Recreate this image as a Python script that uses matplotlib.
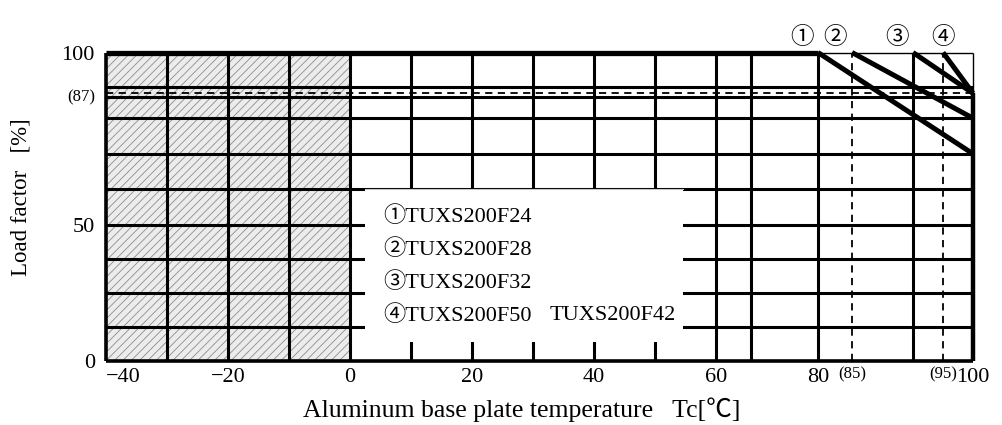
import numpy as np
import matplotlib
matplotlib.use("Agg")
import matplotlib.pyplot as plt
from matplotlib.patches import Rectangle

# ---------------- data ----------------
markers = ["①", "②", "③", "④"]
models = ["TUXS200F24", "TUXS200F28", "TUXS200F32", "TUXS200F50"]
extra_model = "TUXS200F42"
derate_start_temp = [80, 85, 90, 95]
derate_start_load = [100, 100, 100, 100]
derate_end_temp = [100, 100, 100, 100]
derate_end_load = [70, 80, 87, 87]

x_ticks = [-40, -20, 0, 20, 40, 60, 80, 100]
x_ticklabels = ["−40", "−20", "0", "20", "40", "60", "80", "100"]
y_ticks = [0, 50, 100]
y_ticklabels = ["0", "50", "100"]
x_grid = [-30, -20, -10, 0, 10, 20, 30, 40, 50, 60, 70, 80, 90]
y_grid = [12.5, 25, 37.5, 50, 60, 70, 80, 86, 90]
x_ref = [85, 95]
x_ref_labels = ["(85)", "(95)"]
y_ref = [87]
y_ref_labels = ["(87)"]
restricted = [-40, 0]
x_min, x_max = -40, 100
y_min, y_max = 0, 100

# ---------------- style / layout ----------------
plt.rcParams['font.family'] = ['Liberation Serif', 'Noto Sans CJK JP']
plt.rcParams['hatch.linewidth'] = 0.6
plt.rcParams['hatch.color'] = '#8c8c8c'

# piecewise (hand drawn, non-linear) axis scales
xk_v = [-40, 0, 60, 70, 80, 85, 90, 95, 100]
xk_p = [0, 244, 610, 645, 712, 746, 807, 837, 867]
yk_v = [0, 50, 87, 90, 100]
yk_p = [0, 136, 267.7, 274, 308.5]

def xf(v): return np.interp(v, xk_v, xk_p)
def xi(p): return np.interp(p, xk_p, xk_v)
def yf(v): return np.interp(v, yk_v, yk_p)
def yi(p): return np.interp(p, yk_p, yk_v)

W, H = 1002, 425
fig = plt.figure(figsize=(W / 100, H / 100), dpi=100)
ax = fig.add_axes([106 / W, 1 - 361 / H, 867 / W, 308.5 / H])
ax.set_xscale('function', functions=(xf, xi))
ax.set_yscale('function', functions=(yf, yi))
ax.set_xlim(x_min, x_max)
ax.set_ylim(y_min, y_max)
for s in ax.spines.values():
    s.set_visible(False)

# restricted (hatched) region
ax.fill_between(restricted, y_min, y_max, facecolor='#ececec', hatch='////',
                edgecolor='#8c8c8c', linewidth=0, zorder=1)

GLW = 2.2
ax.vlines(x_grid, y_min, y_max, color='black', lw=GLW, zorder=2)
ax.hlines(y_grid, x_min, x_max, color='black', lw=GLW, zorder=2)
ax.vlines(x_ref, y_min, y_max, color='black', lw=1.3, linestyles=(0, (4, 3)), zorder=2)
ax.hlines(y_ref, x_min, x_max, color='black', lw=1.3, linestyles=(0, (4, 3)), zorder=2)

# frame
ax.vlines(x_min, y_min, y_max, color='black', lw=2.6, zorder=6, clip_on=False)
ax.hlines(y_min, x_min, x_max, color='black', lw=2.6, zorder=6, clip_on=False)
ax.hlines(y_max, x_min, derate_start_temp[0], color='black', lw=3.8, zorder=6, clip_on=False)
ax.hlines(y_max, derate_start_temp[0], x_max, color='black', lw=1.0, zorder=6, clip_on=False)
ax.vlines(x_max, y_min, y_ref[0], color='black', lw=3.2, zorder=6, clip_on=False)
ax.vlines(x_max, y_ref[0], y_max, color='black', lw=1.0, zorder=6, clip_on=False)

# derating lines
for t0, l0, t1, l1 in zip(derate_start_temp, derate_start_load,
                          derate_end_temp, derate_end_load):
    ax.plot([t0, t1], [l0, l1], color='black', lw=3.6, solid_capstyle='butt',
            zorder=7, clip_on=False)

mk_off = [-11.5, -12, -11.5, 0]
for t0, m, off in zip(derate_start_temp, markers, mk_off):
    ax.annotate(m, xy=(t0, 1), xycoords=('data', 'axes fraction'),
                xytext=(off, 10.5), textcoords='offset points',
                ha='center', va='center', fontsize=17)

# legend box
box_x0, box_x1, box_y0, box_y1 = 0.2987, 0.6655, 0.0616, 0.556
ax.add_patch(Rectangle((box_x0, box_y0), box_x1 - box_x0, box_y1 - box_y0,
                       transform=ax.transAxes, facecolor='white', edgecolor='none', zorder=3))
ax.plot([box_x0, box_x1], [box_y1, box_y1], transform=ax.transAxes,
        color='#c8c8c8', lw=0.8, zorder=3)
rows_y = [0.4678, 0.3598, 0.2528, 0.1459]
for m, name, yy in zip(markers, models, rows_y):
    ax.text(0.3195, yy, m + name, transform=ax.transAxes, ha='left', va='center',
            fontsize=16, zorder=4)
ax.text(0.5121, rows_y[-1], extra_model, transform=ax.transAxes, ha='left',
        va='center', fontsize=16, zorder=4)

# ticks
ax.set_xticks(x_ticks)
ax.set_xticklabels(x_ticklabels, fontsize=16)
ax.set_yticks(y_ticks)
ax.set_yticklabels(y_ticklabels, fontsize=16)
ax.minorticks_off()
ax.tick_params(axis='x', length=0, pad=5)
ax.tick_params(axis='y', length=0, pad=8)
ax.get_xticklabels()[0].set_horizontalalignment('left')

for v, lab in zip(x_ref, x_ref_labels):
    ax.annotate(lab, xy=(v, 0), xycoords=('data', 'axes fraction'),
                xytext=(0, -10), textcoords='offset points',
                ha='center', va='center', fontsize=12)
for v, lab in zip(y_ref, y_ref_labels):
    ax.annotate(lab, xy=(0, v), xycoords=('axes fraction', 'data'),
                xytext=(-8, -3), textcoords='offset points',
                ha='right', va='center', fontsize=12)

ax.set_xlabel("Aluminum base plate temperature   Tc[℃]", fontsize=18.5)
ax.xaxis.set_label_coords(0.48, -0.159)
ax.xaxis.label.set_va('center')
ax.set_ylabel("Load factor   [%]", fontsize=16.5, va='center')
ax.yaxis.set_label_coords(-0.098, 0.532)

fig.savefig("out.png", dpi=100)
